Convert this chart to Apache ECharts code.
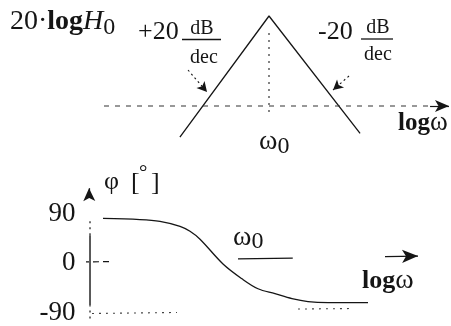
<!DOCTYPE html>
<html>
<head>
<meta charset="utf-8">
<script src="https://cdn.jsdelivr.net/npm/echarts@6/dist/echarts.min.js"></script>
<style>
  html, body { margin: 0; padding: 0; background: #fff; }
  #c { width: 451px; height: 326px; }
</style>
</head>
<body>
<div id="c"></div>
<script>
// Bode diagram sketch: gain asymptotes (top) and phase response (bottom)
const SERIF = '"Liberation Serif", "Times New Roman", serif';
const INK = '#151515';

// Gain asymptotes: position in decades relative to ω0, gain in dB (0 = logω axis)
const magDecades = [-1.35, 0, 1.38];
const magDb = [-6.9, 20, -6.1];

// Phase response: decades relative to ω0, phase in degrees
const phaseDecades = [-2.515, -1.955, -1.652, -1.348, -1.197, -1.045, -0.697, -0.409, -0.167, 0.091, 0.348, 0.591, 0.894, 1.5];
const phaseDeg = [81, 79, 75.6, 66.6, 57.6, 43.2, -1.8, -28.8, -46.8, -55.8, -64.8, -70.2, -72, -72];

// Phase axis tick labels
const phaseTicks = [90, 0, -90];

const X_MIN = -2.75, X_MAX = 2.75;

const magData = magDecades.map((x, i) => [x, magDb[i]]);
const phaseData = phaseDecades.map((x, i) => [x, phaseDeg[i]]);

function seg(gi, pts, style, extra) {
  return Object.assign({
    type: 'line', xAxisIndex: gi, yAxisIndex: gi, data: pts,
    symbol: 'none', silent: true, clip: false, animation: false,
    lineStyle: Object.assign({ color: INK, width: 1.2 }, style)
  }, extra || {});
}

function arrowMark(pairs, style, size) {
  return {
    markLine: {
      silent: true, animation: false,
      symbol: ['none', 'arrow'], symbolSize: size,
      label: { show: false },
      lineStyle: Object.assign({ color: INK, width: 1.2, type: 'solid' }, style),
      data: pairs.map(p => [{ coord: p[0] }, { coord: p[1] }])
    }
  };
}

// text runs laid out left to right on a shared baseline
const mctx = document.createElement('canvas').getContext('2d');
function fontOf(p) {
  return (p.style || 'normal') + ' ' + (p.weight || 'normal') + ' ' + p.size + 'px ' + SERIF;
}
function textRun(x, baseline, pieces, anchor) {
  const widths = pieces.map(p => { mctx.font = fontOf(p); return mctx.measureText(p.t).width; });
  const total = widths.reduce((a, b) => a + b, 0);
  let cx = anchor === 'center' ? x - total / 2 : (anchor === 'right' ? x - total : x);
  const els = [];
  pieces.forEach((p, i) => {
    const font = fontOf(p);
    els.push({
      type: 'text', silent: true,
      x: cx + (p.dx || 0),
      y: baseline + (p.dy || 0) - 0.3375 * p.size,
      style: {
        text: p.t, font: font, fill: INK,
        align: 'left', verticalAlign: 'middle',
        textAlign: 'left', textVerticalAlign: 'middle'
      }
    });
    cx += widths[i];
  });
  return els;
}
function fracLine(x1, x2, y) {
  return { type: 'line', silent: true, shape: { x1: x1, y1: y, x2: x2, y2: y }, style: { stroke: INK, lineWidth: 1.3 } };
}

const texts = [].concat(
  textRun(10, 31, [
    { t: '20·', size: 28 },
    { t: 'log', size: 28, weight: 'bold' },
    { t: 'H', size: 28, style: 'italic' },
    { t: '0', size: 24, dy: 5 }
  ]),
  textRun(138, 41, [{ t: '+20', size: 26 }]),
  textRun(202, 35, [{ t: 'dB', size: 20 }], 'center'),
  textRun(204, 64, [{ t: 'dec', size: 20 }], 'center'),
  [fracLine(182, 221, 39.5)],
  textRun(318, 41, [{ t: '-20', size: 26 }]),
  textRun(378, 34, [{ t: 'dB', size: 20 }], 'center'),
  textRun(378, 61, [{ t: 'dec', size: 20 }], 'center'),
  [fracLine(361, 393, 39)],
  textRun(259, 151, [{ t: 'ω', size: 28 }, { t: '0', size: 24, dy: 4 }]),
  textRun(398, 132, [{ t: 'log', size: 25, weight: 'bold' }, { t: 'ω', size: 27 }]),
  textRun(104, 191, [{ t: 'φ', size: 26 }]),
  textRun(131, 192, [{ t: '[', size: 26 }]),
  textRun(139, 181, [{ t: '°', size: 21 }]),
  textRun(151, 192, [{ t: ']', size: 26 }]),
  textRun(233, 247, [{ t: 'ω', size: 28 }, { t: '0', size: 24, dy: 3 }]),
  textRun(362, 290, [{ t: 'log', size: 26, weight: 'bold' }, { t: 'ω', size: 28 }])
);

const option = {
  animation: false,
  backgroundColor: '#fff',
  grid: [
    { left: 87.5, width: 363, top: 16, height: 126 },
    { left: 87.5, width: 363, top: 164, height: 150 }
  ],
  xAxis: [
    { type: 'value', gridIndex: 0, min: X_MIN, max: X_MAX, show: false },
    { type: 'value', gridIndex: 1, min: X_MIN, max: X_MAX, show: false }
  ],
  yAxis: [
    { type: 'value', gridIndex: 0, min: -8, max: 20, show: false },
    {
      type: 'value', gridIndex: 1, min: -90, max: 180, interval: 90,
      axisLine: { show: false }, axisTick: { show: false }, splitLine: { show: false },
      axisLabel: {
        margin: 12, fontFamily: SERIF, fontSize: 27, color: INK,
        formatter: v => (phaseTicks.indexOf(v) >= 0 ? String(v) : '')
      }
    }
  ],
  series: [
    // gain asymptotes
    seg(0, magData, { width: 1.3 }),
    // logω axis of the gain plot, with arrow
    seg(0, [[-2.5, 0], [2.5, 0]], { type: [5, 6], color: '#333', width: 1.2 },
      arrowMark([[[2.44, 0], [2.727, 0]]], { type: 'solid', width: 1.2 }, [9, 14])),
    // ω0 marker and slope leaders
    seg(0, [[0, 16.2], [0, -1.6]], { type: [2, 5], color: '#333', width: 1.2 },
      arrowMark([
        [[-1.227, 8.0], [-0.939, 3.11]],
        [[1.212, 6.67], [0.97, 3.56]]
      ], { type: [2, 3], width: 1.1 }, [8, 10])),
    // phase response
    seg(1, phaseData, { width: 1.3 }, { smooth: 0.35 }),
    // phase axis
    seg(1, [[-2.712, -100.8], [-2.712, -77.4]], { type: [2, 4], width: 1.2 }),
    seg(1, [[-2.712, -77.4], [-2.712, 50.4]], { width: 1.4 }),
    seg(1, [[-2.712, 50.4], [-2.712, 82.8]], { type: [2, 4], width: 1.2 },
      arrowMark([[[-2.725, 124], [-2.727, 136]]], { type: 'solid', width: 1.2 }, [9, 13])),
    // 0° line pieces and logω arrow
    seg(1, [[-2.818, 1.8], [-2.379, 2.7]], { type: [6, 4], width: 1.2 }),
    seg(1, [[-0.47, 7.4], [0.36, 9.0]], { width: 1.2 },
      arrowMark([[[1.758, 11.7], [2.258, 12.6]]], { type: 'solid', width: 1.3 }, [10, 16])),
    // -90° dotted level
    seg(1, [[-2.682, -91.8], [-1.394, -90]], { type: [2, 5], color: '#444', width: 1.1 }),
    seg(1, [[0.439, -83.7], [1.258, -82.8]], { type: [2, 5], color: '#444', width: 1.1 })
  ],
  graphic: { elements: texts }
};

const chart = echarts.init(document.getElementById('c'), null, { renderer: 'canvas' });
chart.setOption(option);
</script>
</body>
</html>
